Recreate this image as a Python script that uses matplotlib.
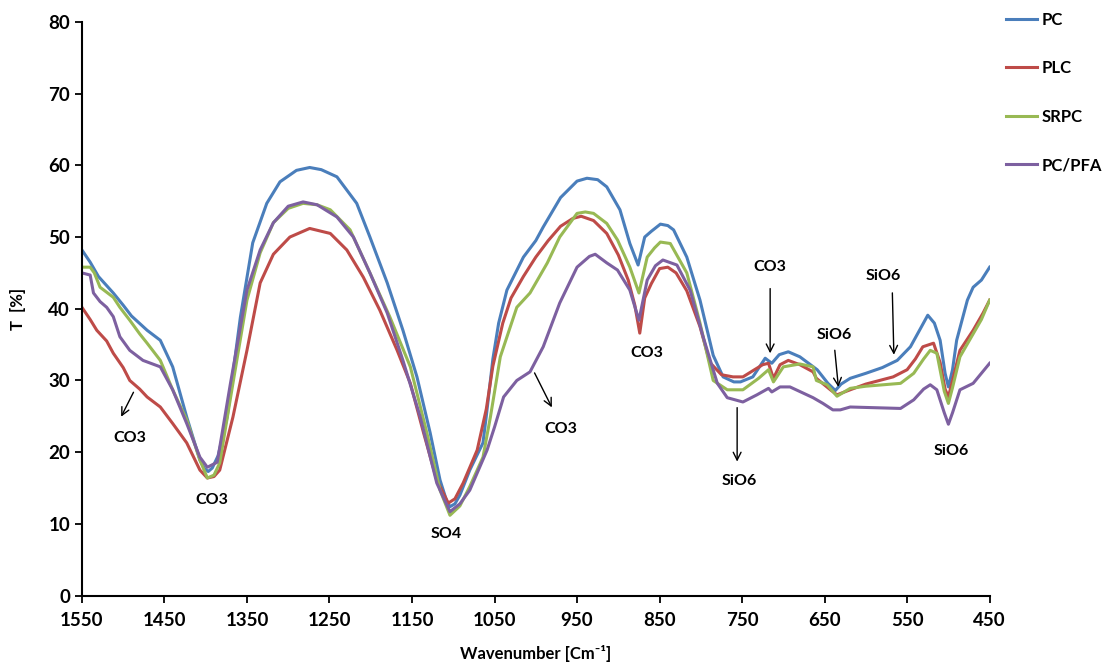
import matplotlib
matplotlib.use("Agg")
import matplotlib.pyplot as plt

plt.rcParams["font.family"] = ["Lato", "DejaVu Sans"]

BLUE = "#4a7ebb"
RED = "#be4b48"
GREEN = "#98b954"
PURPLE = "#7d60a0"

# PC
pc_wn = [1550, 1540, 1530, 1512, 1500, 1490, 1471, 1455, 1440, 1423, 1407, 1402, 1397,
         1392, 1385, 1374, 1358, 1343, 1326, 1310, 1290, 1274, 1260, 1241, 1217, 1201,
         1180, 1161, 1144, 1128, 1116, 1108, 1104, 1098, 1092, 1080, 1064, 1060, 1052,
         1045, 1035, 1015, 1000, 991, 970, 950, 938, 925, 914, 898, 886, 876, 868, 860,
         849, 840, 833, 817, 801, 785, 773, 760, 752, 737, 722, 714, 705, 694, 680, 659,
         646, 637, 630, 619, 600, 580, 562, 546, 535, 525, 517, 510, 504, 500, 495, 490,
         477, 470, 460, 450]
pc_t = [48.2, 46.5, 44.5, 42.2, 40.5, 39.0, 37.0, 35.6, 31.9, 24.9, 18.9, 17.8, 17.3,
        17.8, 19.5, 24.9, 38.8, 49.2, 54.7, 57.7, 59.3, 59.7, 59.4, 58.4, 54.7, 50.0,
        43.6, 37.0, 30.5, 22.7, 16.1, 13.2, 12.4, 12.8, 14.0, 17.5, 21.3, 25.0, 33.0,
        38.0, 42.6, 47.2, 49.5, 51.4, 55.5, 57.8, 58.2, 58.0, 57.0, 53.8, 49.1, 46.1,
        50.0, 50.8, 51.8, 51.6, 51.0, 47.2, 41.2, 33.5, 30.5, 29.8, 29.8, 30.5, 33.1,
        32.4, 33.6, 34.0, 33.3, 31.5, 29.6, 28.6, 29.5, 30.3, 31.0, 31.8, 32.8, 34.7,
        37.0, 39.1, 38.0, 35.6, 31.0, 29.1, 31.5, 35.6, 41.2, 43.0, 44.0, 45.8]

# PLC
plc_wn = [1550, 1540, 1532, 1520, 1512, 1500, 1492, 1480, 1471, 1455, 1440, 1423, 1407,
          1398, 1390, 1383, 1367, 1350, 1334, 1318, 1298, 1274, 1249, 1229, 1209, 1189,
          1168, 1152, 1136, 1120, 1106, 1098, 1088, 1071, 1060, 1052, 1040, 1030, 1015,
          1000, 985, 970, 955, 945, 930, 914, 900, 888, 880, 874, 868, 860, 850, 840, 830,
          817, 801, 789, 775, 761, 749, 735, 725, 718, 712, 704, 694, 680, 664, 660, 643,
          635, 619, 600, 567, 550, 540, 531, 518, 510, 504, 500, 495, 486, 470, 458, 450]
plc_t = [40.2, 38.5, 37.0, 35.5, 33.8, 31.8, 30.0, 28.8, 27.7, 26.3, 24.0, 21.3, 17.5,
         16.4, 16.6, 17.5, 24.9, 34.2, 43.6, 47.6, 50.0, 51.2, 50.5, 48.2, 44.4, 39.8,
         34.2, 29.6, 22.7, 16.1, 12.9, 13.5, 15.7, 20.3, 26.0, 32.0, 38.0, 41.5, 44.5,
         47.2, 49.5, 51.5, 52.6, 52.9, 52.3, 50.5, 47.5, 44.0, 40.5, 36.6, 41.5, 43.5,
         45.6, 45.8, 45.0, 42.5, 37.5, 32.5, 30.8, 30.5, 30.5, 31.5, 32.2, 32.4, 30.3,
         32.2, 32.8, 32.2, 31.2, 30.3, 28.7, 28.0, 28.7, 29.5, 30.5, 31.5, 33.0, 34.7,
         35.2, 32.5, 28.8, 27.7, 30.0, 34.2, 37.0, 39.4, 41.2]

# SRPC
srpc_wn = [1550, 1540, 1535, 1528, 1512, 1504, 1492, 1480, 1471, 1455, 1440, 1423, 1407,
           1398, 1390, 1383, 1367, 1350, 1334, 1318, 1300, 1282, 1265, 1249, 1225, 1201,
           1177, 1152, 1132, 1116, 1104, 1092, 1080, 1064, 1055, 1043, 1023, 1007, 986,
           971, 950, 940, 930, 914, 901, 886, 875, 865, 856, 849, 837, 817, 801, 785, 768,
           749, 730, 718, 712, 700, 680, 664, 660, 647, 635, 619, 600, 558, 542, 530, 522,
           514, 505, 500, 495, 486, 470, 460, 450]
srpc_t = [45.8, 45.8, 45.0, 43.0, 41.6, 40.2, 38.4, 36.5, 35.2, 32.8, 28.7, 24.5, 18.9,
          16.4, 16.8, 18.5, 29.6, 41.2, 47.8, 52.0, 54.0, 54.7, 54.5, 53.8, 51.0, 45.0,
          38.9, 31.9, 22.7, 14.7, 11.2, 12.5, 15.2, 19.3, 24.9, 33.3, 40.2, 42.2, 46.4,
          50.0, 53.3, 53.5, 53.3, 51.9, 49.6, 45.8, 42.2, 47.2, 48.5, 49.3, 49.1, 45.0,
          38.0, 30.0, 28.7, 28.7, 30.3, 31.5, 29.8, 31.9, 32.3, 31.9, 30.0, 29.4, 27.8,
          28.9, 29.2, 29.6, 31.0, 33.0, 34.2, 33.8, 28.5, 26.8, 29.0, 33.3, 36.5, 38.5,
          41.2]

# PC/PFA
pfa_wn = [1550, 1540, 1536, 1528, 1520, 1512, 1504, 1492, 1476, 1455, 1440, 1423, 1407,
          1398, 1386, 1370, 1350, 1334, 1318, 1300, 1282, 1265, 1241, 1221, 1201, 1180,
          1161, 1140, 1120, 1104, 1092, 1080, 1059, 1050, 1039, 1023, 1007, 991, 971, 950,
          935, 928, 914, 901, 886, 875, 865, 855, 846, 829, 813, 797, 780, 768, 749, 732,
          718, 714, 704, 692, 664, 652, 640, 631, 619, 558, 542, 530, 522, 514, 505, 500,
          495, 486, 470, 460, 450]
pfa_t = [45.0, 44.7, 42.2, 41.0, 40.2, 38.9, 36.1, 34.2, 32.8, 31.9, 28.7, 24.0, 19.3,
         17.9, 18.6, 29.6, 42.6, 48.2, 52.0, 54.3, 54.9, 54.5, 52.8, 50.0, 45.0, 39.4,
         32.8, 24.9, 15.7, 11.7, 12.8, 14.7, 20.3, 23.5, 27.7, 30.0, 31.2, 34.7, 40.8,
         45.8, 47.3, 47.6, 46.4, 45.4, 42.6, 38.4, 44.0, 46.0, 46.8, 46.1, 42.6, 36.0,
         29.6, 27.6, 27.0, 28.0, 28.9, 28.4, 29.1, 29.1, 27.6, 26.8, 25.9, 25.9, 26.3,
         26.1, 27.3, 28.8, 29.4, 28.7, 25.5, 23.9, 25.5, 28.7, 29.6, 31.0, 32.4]

fig = plt.figure(figsize=(11.07, 6.64), dpi=100)
ax = fig.add_axes([0.074, 0.103, 0.820, 0.864])

ax.plot(pc_wn, pc_t, color=BLUE, lw=2.2, label="PC")
ax.plot(plc_wn, plc_t, color=RED, lw=2.2, label="PLC")
ax.plot(srpc_wn, srpc_t, color=GREEN, lw=2.2, label="SRPC")
ax.plot(pfa_wn, pfa_t, color=PURPLE, lw=2.2, label="PC/PFA")

ax.set_xlim(1550, 450)
ax.set_ylim(0, 80)
ax.set_xticks(range(1550, 449, -100))
ax.set_yticks(range(0, 81, 10))
for s in ["top", "right"]:
    ax.spines[s].set_visible(False)
for s in ["left", "bottom"]:
    ax.spines[s].set_linewidth(1.5)
ax.tick_params(direction="out", length=5, width=1.3, labelsize=13.5)
for lab in ax.get_xticklabels() + ax.get_yticklabels():
    lab.set_fontweight("bold")
ax.tick_params(axis="x", pad=7)

ax.set_xlabel("Wavenumber [Cm\u207b\u00b9]", fontsize=12, fontweight="bold", labelpad=11)
ax.set_ylabel("T  [%]", fontsize=12, fontweight="bold", labelpad=16)

fig.legend(loc="upper left", bbox_to_anchor=(0.895, 1.005), frameon=False,
           prop={"weight": "bold", "size": 12}, labelspacing=1.95,
           handlelength=1.9, handletextpad=0.25)

txt = dict(fontsize=11.5, ha="center", va="center", fontweight="bold")
arr = dict(arrowstyle="->", color="black", lw=1, mutation_scale=14)

ax.annotate("", xy=(1504, 24.6), xytext=(1486, 28.7), arrowprops=arr)
ax.text(1492, 22.0, "CO3", **txt)
ax.text(1392, 13.3, "CO3", **txt)
ax.text(1108, 8.6, "SO4", **txt)
ax.annotate("", xy=(979, 25.9), xytext=(1003, 31.4), arrowprops=arr)
ax.text(970, 23.3, "CO3", **txt)
ax.text(866, 33.8, "CO3", **txt)
ax.annotate("", xy=(716, 33.4), xytext=(716, 43.2), arrowprops=arr)
ax.text(716, 45.8, "CO3", **txt)
ax.annotate("", xy=(633, 28.7), xytext=(638, 34.6), arrowprops=arr)
ax.text(638, 36.3, "SiO6", **txt)
ax.annotate("", xy=(566, 33.2), xytext=(568, 42.6), arrowprops=arr)
ax.text(579, 44.5, "SiO6", **txt)
ax.annotate("", xy=(756, 18.3), xytext=(756, 26.6), arrowprops=arr)
ax.text(754, 16.0, "SiO6", **txt)
ax.text(497, 20.1, "SiO6", **txt)

fig.savefig("out.png", dpi=100)
